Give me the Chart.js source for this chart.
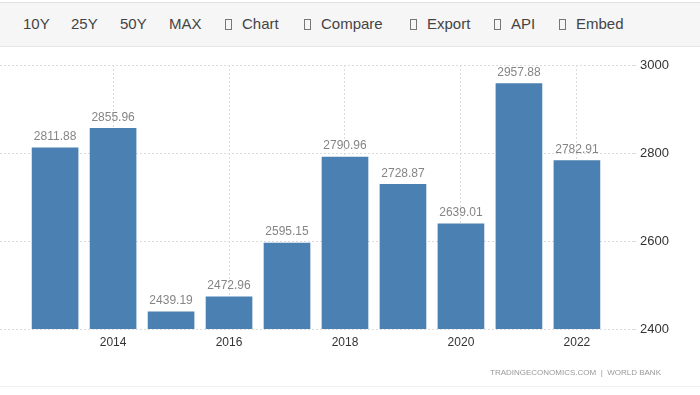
<!DOCTYPE html>
<html>
<head>
<meta charset="utf-8">
<script src="https://cdn.jsdelivr.net/npm/chart.js@4/dist/chart.umd.min.js"></script>
<style>
  html, body { margin: 0; padding: 0; background: #fff; }
  #wrap { position: relative; width: 700px; height: 395px; overflow: hidden; font-family: "Liberation Sans", Arial, sans-serif; }
  #bar { position: absolute; left: 0; top: 2px; width: 700px; height: 43px; background: #f6f6f6;
         border-top: 1px solid #e2e2e2; border-bottom: 1px solid #e6e6e6; }
  #bar span { position: absolute; top: 12px; font-size: 15px; color: #444; white-space: nowrap; }
  #bar b { display: inline-block; width: 5px; height: 9px; border: 1px solid #777; margin-right: 10px; vertical-align: -1px; }
  #chart { position: absolute; left: 0; top: 0; }
  #src { position: absolute; left: 490px; top: 368px; font-size: 8px; color: #999; }
  #foot { position: absolute; left: 0; top: 386px; width: 700px; border-top: 1px solid #efefef; }
</style>
</head>
<body>
<div id="wrap">
  <canvas id="chart" width="700" height="395"></canvas>
  <div id="bar">
    <span style="left:23px">10Y</span>
    <span style="left:71px">25Y</span>
    <span style="left:120px">50Y</span>
    <span style="left:169px">MAX</span>
    <span style="left:225px"><b></b>Chart</span>
    <span style="left:304px"><b></b>Compare</span>
    <span style="left:410px"><b></b>Export</span>
    <span style="left:494px"><b></b>API</span>
    <span style="left:559px"><b></b>Embed</span>
  </div>
  <div id="src">TRADINGECONOMICS.COM &nbsp;|&nbsp; WORLD BANK</div>
  <div id="foot"></div>
</div>
<script>
const years = [2013, 2014, 2015, 2016, 2017, 2018, 2019, 2020, 2021, 2022];
const values = [2811.88, 2855.96, 2439.19, 2472.96, 2595.15, 2790.96, 2728.87, 2639.01, 2957.88, 2782.91];
const yTicks = [2400, 2600, 2800, 3000];

const barColor = '#4a80b2';
const gridColor = '#dcdcdc';

// value labels above each bar, placed from the bar elements
const valueLabels = {
    id: 'valueLabels',
    afterDatasetsDraw(chart) {
        const ctx = chart.ctx;
        const meta = chart.getDatasetMeta(0);
        ctx.save();
        ctx.font = '12px "Liberation Sans", Arial, sans-serif';
        ctx.fillStyle = '#858585';
        ctx.textAlign = 'center';
        ctx.textBaseline = 'bottom';
        meta.data.forEach((bar, i) => {
            ctx.fillText(values[i].toFixed(2), bar.x, bar.y - 5);
        });
        ctx.restore();
    }
};

new Chart(document.getElementById('chart'), {
    type: 'bar',
    data: {
        datasets: [{
            data: years.map((yr, i) => ({ x: yr, y: values[i] })),
            backgroundColor: barColor,
            borderWidth: 0,
            barThickness: 46
        }]
    },
    options: {
        responsive: false,
        animation: false,
        layout: { padding: { top: 65, left: 0, right: 0, bottom: 0 } },
        plugins: { legend: { display: false }, tooltip: { enabled: false } },
        scales: {
            x: {
                type: 'linear',
                offset: false,
                min: 2012.05,
                max: 2022.95,
                afterFit: s => { s.height = 66; },
                grid: { color: gridColor, drawTicks: false, offset: false },
                border: { display: false, dash: [2, 2] },
                ticks: {
                    stepSize: 2,
                    includeBounds: false,
                    padding: 6,
                    color: '#333',
                    font: { size: 12, family: '"Liberation Sans", Arial, sans-serif' },
                    callback: v => String(v)
                },
                afterBuildTicks: s => { s.ticks = s.ticks.filter(t => Number.isInteger(t.value) && t.value % 2 === 0); }
            },
            y: {
                position: 'right',
                min: yTicks[0],
                max: yTicks[yTicks.length - 1],
                afterFit: s => { s.width = 68; },
                afterBuildTicks: s => { s.ticks = yTicks.map(v => ({ value: v })); },
                grid: { color: gridColor, tickLength: 4 },
                border: { display: false, dash: [2, 2] },
                ticks: {
                    padding: 4,
                    color: '#333',
                    font: { size: 13, family: '"Liberation Sans", Arial, sans-serif' },
                    callback: v => String(v)
                }
            }
        }
    },
    plugins: [valueLabels]
});
</script>
</body>
</html>
